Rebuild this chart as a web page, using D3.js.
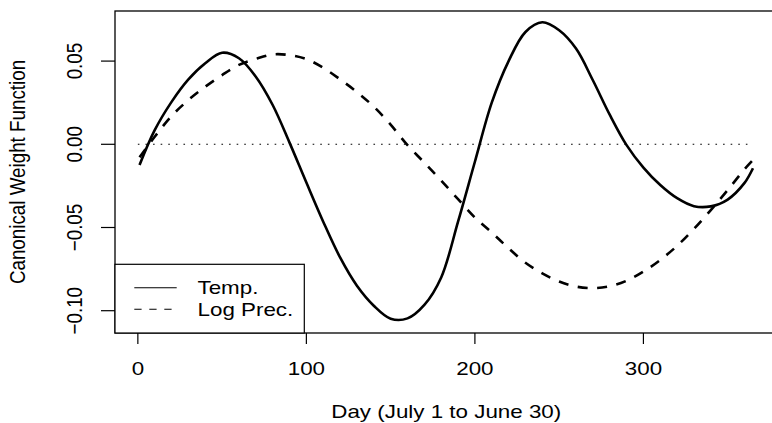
<!DOCTYPE html>
<html>
<head>
<meta charset="utf-8">
<script src="https://cdn.jsdelivr.net/npm/d3@7"></script>
<style>
  html, body { margin: 0; padding: 0; background: #fff; }
  svg { display: block; }
  text { font-family: "Liberation Sans", Arial, Helvetica, sans-serif; fill: #000; }
</style>
</head>
<body>
<svg id="chart" width="772" height="423"></svg>
<script>
// ---- data ----
const days = [1, 10, 20, 30, 40, 50, 60, 70, 80, 90, 100, 110, 120, 130, 140, 150, 160, 170, 180,
  190, 200, 210, 220, 230, 240, 250, 260, 270, 280, 290, 300, 310, 320, 330, 340, 350, 360, 365];

const tempValues = [-0.0124, 0.0085, 0.0255, 0.0390, 0.0487, 0.0550, 0.0517, 0.0406, 0.0236, 0.0010,
  -0.0230, -0.0465, -0.0680, -0.0850, -0.0970, -0.1048, -0.1046, -0.0965, -0.0800,
  -0.0465, -0.0105, 0.0250, 0.0500, 0.0675, 0.0733, 0.0685, 0.0575, 0.0385, 0.0178,
  -0.0005, -0.0140, -0.0245, -0.0324, -0.0372, -0.0373, -0.0332, -0.0232, -0.0144];

const logPrecValues = [-0.0078, 0.0045, 0.0170, 0.0266, 0.0346, 0.0416, 0.0477, 0.0513, 0.0540, 0.0536,
  0.0512, 0.0460, 0.0390, 0.0314, 0.0226, 0.0118, -0.0005, -0.0110, -0.0218,
  -0.0330, -0.0440, -0.0530, -0.0625, -0.0712, -0.0776, -0.0825, -0.0855, -0.0864, -0.0853,
  -0.0820, -0.0765, -0.0695, -0.0610, -0.0508, -0.0395, -0.0275, -0.0150, -0.0095];

const zeroLineDays = [0, 365];
const xTicks = [0, 100, 200, 300];
const yTicks = [-0.10, -0.05, 0.00, 0.05];
const yTickLabels = ["\u22120.10", "\u22120.05", "0.00", "0.05"];
const seriesNames = ["Temp.", "Log Prec."];
const xTitle = "Day (July 1 to June 30)";
const yTitle = "Canonical Weight Function";

// ---- layout ----
const FS = 18.8;   // font size
const SX = 1.19;   // horizontal stretch of the reference text
const box = { left: 115, right: 777.5, top: 11, bottom: 333 };

const svg = d3.select("#chart");

const x = d3.scaleLinear().domain([-13.56, 379.56]).range([box.left, box.right]);
const y = d3.scaleLinear().domain([-0.1134, 0.0801]).range([box.bottom, box.top]);

function hText(g, tx, ty, str, anchor) {
  return g.append("text")
    .attr("transform", `translate(${tx},${ty}) scale(${SX},1)`)
    .attr("text-anchor", anchor || "middle")
    .style("font-size", FS + "px")
    .text(str);
}
function vText(g, tx, ty, str) {
  return g.append("text")
    .attr("transform", `translate(${tx},${ty}) scale(${SX},1) rotate(-90)`)
    .attr("text-anchor", "middle")
    .style("font-size", FS + "px")
    .text(str);
}

// zero dotted line
svg.append("line")
  .attr("x1", x(zeroLineDays[0])).attr("x2", x(zeroLineDays[1]))
  .attr("y1", y(0)).attr("y2", y(0))
  .attr("stroke", "#000").attr("stroke-width", 1.1)
  .attr("stroke-dasharray", "1.6,6");

// curves
const line = d3.line()
  .x((d, i) => x(days[i]))
  .y(d => y(d))
  .curve(d3.curveCatmullRom.alpha(0.5));

svg.append("path").datum(logPrecValues)
  .attr("d", line)
  .attr("fill", "none").attr("stroke", "#000")
  .attr("stroke-width", 2.6)
  .attr("stroke-dasharray", "10,9.5");

svg.append("path").datum(tempValues)
  .attr("d", line)
  .attr("fill", "none").attr("stroke", "#000")
  .attr("stroke-width", 2.6);

// plot frame
svg.append("rect")
  .attr("x", box.left).attr("y", box.top)
  .attr("width", box.right - box.left).attr("height", box.bottom - box.top)
  .attr("fill", "none").attr("stroke", "#000").attr("stroke-width", 1.3);

// x axis
const xAxisG = svg.append("g");
xAxisG.selectAll("line.tick").data(xTicks).enter().append("line")
  .attr("x1", d => x(d)).attr("x2", d => x(d))
  .attr("y1", box.bottom).attr("y2", box.bottom + 11)
  .attr("stroke", "#000").attr("stroke-width", 1.2);
xTicks.forEach(t => hText(xAxisG, x(t), 375, String(t)));

// y axis
const yAxisG = svg.append("g");
yAxisG.selectAll("line.tick").data(yTicks).enter().append("line")
  .attr("x1", box.left).attr("x2", box.left - 14)
  .attr("y1", d => y(d)).attr("y2", d => y(d))
  .attr("stroke", "#000").attr("stroke-width", 1.2);
yTicks.forEach((t, i) => vText(yAxisG, 82, y(t), yTickLabels[i]));

// titles
hText(svg, (box.left + box.right) / 2, 418, xTitle);
vText(svg, 24.5, (box.top + box.bottom) / 2, yTitle);

// legend
const lg = svg.append("g");
lg.append("rect")
  .attr("x", box.left).attr("y", 264.3)
  .attr("width", 304.3 - box.left).attr("height", box.bottom - 264.3)
  .attr("fill", "#fff").attr("stroke", "#000").attr("stroke-width", 1.2);
const legendRows = [287.7, 309.3];
const legendDash = [null, "7.3,7.7"];
seriesNames.forEach((name, i) => {
  const l = lg.append("line")
    .attr("x1", 134.3).attr("x2", 176.7)
    .attr("y1", legendRows[i]).attr("y2", legendRows[i])
    .attr("stroke", "#000").attr("stroke-width", 1.1);
  if (legendDash[i]) l.attr("stroke-dasharray", legendDash[i]);
  hText(lg, 197.5, legendRows[i] + 6.7, name, "start");
});
</script>
</body>
</html>
